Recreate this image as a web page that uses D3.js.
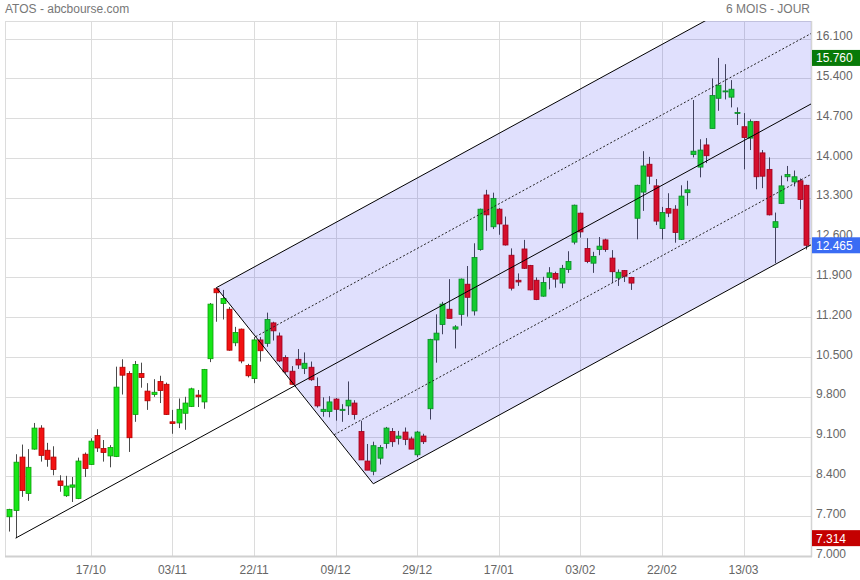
<!DOCTYPE html>
<html><head><meta charset="utf-8">
<script src="https://cdn.jsdelivr.net/npm/d3@7"></script>
<style>
body{margin:0;background:#fff;}
svg{display:block;font-family:"Liberation Sans",Arial,sans-serif;}
</style>
</head><body>
<svg id="chart" width="860" height="580"></svg>
<script>
// ---- data ----
const opens = [7.69,7.80,8.74,8.10,8.88,9.25,8.86,8.74,8.32,8.06,8.21,8.01,8.79,8.61,9.12,8.89,8.76,8.75,10.32,10.21,
9.49,10.21,9.90,9.84,10.07,10.02,9.36,9.34,9.51,9.63,9.83,9.71,10.47,11.70,11.44,11.34,10.75,10.99,10.35,10.12,
10.80,10.74,11.10,10.87,10.49,10.25,10.46,10.30,10.32,9.98,9.54,9.54,9.76,9.56,9.64,9.69,9.19,8.67,8.49,8.72,
8.98,9.19,9.07,9.18,9.06,8.78,9.11,9.59,10.80,11.07,11.34,10.99,11.25,11.78,11.31,12.39,13.35,12.79,13.10,12.82,
12.29,11.85,12.40,12.11,11.85,11.57,11.90,11.97,11.80,12.04,12.52,13.03,12.41,12.15,12.39,12.56,12.24,11.89,12.02,11.90,
12.94,13.40,13.89,13.51,12.76,13.11,13.10,12.57,13.39,14.06,13.84,14.23,14.52,15.05,15.17,15.07,14.79,14.55,14.35,14.64,
14.09,13.80,12.78,13.20,13.67,13.58,13.60,13.52];
const highs = [7.83,8.79,8.96,8.88,9.34,9.30,8.99,8.93,8.42,8.41,8.39,8.73,8.82,9.07,9.23,9.04,8.95,10.33,10.46,10.25,
10.43,10.40,10.04,10.11,10.17,10.05,9.57,9.77,9.80,9.96,9.92,10.29,11.45,11.72,11.68,11.38,11.03,11.00,10.38,10.85,
10.85,11.28,11.12,10.93,10.53,10.34,10.64,10.58,10.42,10.14,9.79,9.81,9.78,9.67,10.07,9.74,9.38,8.97,9.01,8.95,
9.27,9.25,9.20,9.26,9.10,9.20,9.15,10.82,11.25,11.47,11.87,11.06,11.88,12.10,12.50,13.11,13.44,13.39,13.12,12.97,
12.41,11.97,12.56,12.12,11.90,11.91,12.08,12.00,12.12,12.36,13.18,13.04,12.59,12.35,12.61,12.58,12.38,12.04,12.03,11.91,
13.53,14.12,14.02,13.63,13.14,13.38,13.17,13.52,13.60,15.02,14.33,14.35,15.40,15.76,15.65,15.37,14.89,14.79,14.68,14.65,
14.14,14.01,13.04,13.69,13.86,13.78,13.64,13.53];
const lows = [7.43,7.314,8.04,7.97,8.87,8.66,8.57,8.42,8.13,8.04,7.95,8.00,8.39,8.60,8.83,8.66,8.56,8.74,9.84,8.83,
9.36,9.96,9.57,9.80,9.69,9.48,9.15,9.25,9.22,9.62,9.62,9.59,10.41,11.12,11.16,10.61,10.69,10.39,10.14,10.04,
10.42,10.68,10.79,10.41,10.21,10.01,10.29,10.20,10.08,9.61,9.45,9.44,9.38,9.36,9.48,9.40,8.69,8.51,8.42,8.61,
8.89,8.92,8.96,8.95,8.88,8.74,8.97,9.40,10.40,10.90,11.18,10.65,11.05,11.21,11.23,12.37,12.72,12.75,12.65,12.46,
11.67,11.75,12.05,11.67,11.50,11.56,11.69,11.72,11.71,11.98,12.48,12.60,12.15,11.98,12.29,12.35,11.80,11.75,11.82,11.68,
12.57,13.07,13.54,12.82,12.57,12.96,12.51,12.56,13.16,14.01,13.66,13.91,14.52,14.83,15.03,14.89,14.58,13.80,14.14,13.45,
13.47,12.99,12.15,13.19,13.59,13.50,13.10,12.39];
const closes = [7.82,8.65,8.15,8.56,9.25,8.77,8.70,8.52,8.24,8.23,8.25,8.67,8.54,9.02,8.90,8.82,8.91,9.97,10.18,9.08,
10.37,10.14,9.73,9.88,9.91,9.49,9.33,9.58,9.69,9.94,9.80,10.28,11.43,11.63,11.53,10.62,10.93,10.43,10.17,10.80,
10.61,11.16,10.96,10.43,10.24,10.02,10.36,10.39,10.10,9.64,9.58,9.71,9.58,9.58,9.74,9.49,8.69,8.51,8.94,8.91,
9.25,9.01,9.11,9.05,8.88,9.18,9.01,10.81,10.92,11.43,11.18,11.03,11.87,11.55,12.25,13.10,13.00,13.29,12.84,12.47,
11.71,11.82,12.06,11.68,11.51,11.81,11.98,11.87,12.06,12.18,13.17,12.70,12.18,12.27,12.45,12.39,12.00,11.99,11.92,11.80,
13.52,13.86,13.68,12.89,13.04,13.03,12.69,13.33,13.44,14.12,14.14,14.04,15.10,15.28,15.18,15.21,14.80,14.36,14.64,13.67,
13.68,13.00,12.88,13.51,13.71,13.67,13.27,12.465];

const xTickIndex  = [13, 26, 39, 52, 65, 78, 91, 104, 117];
const xTickLabels = ["17/10","03/11","22/11","09/12","29/12","17/01","03/02","22/02","13/03"];
const yTicks = [7.0,7.7,8.4,9.1,9.8,10.5,11.2,11.9,12.6,13.3,14.0,14.7,15.4,16.1];

// Andrews pitchfork pivots (candle index, price)
const pivotIndex = [1, 33, 58];
const pivotPrice = [7.314, 11.72, 8.27];

const titleLeft = "ATOS - abcbourse.com";
const titleRight = "6 MOIS - JOUR";

// ---- drawing ----
const svg = d3.select("#chart");
const L = 5, R = 811, T = 21, B = 556;
const N = closes.length;
const x = d3.scaleLinear().domain([0, N - 1]).range([9.3, 806.3]);
const y = d3.scaleLinear().domain([7, 16.1]).range([556, 38.6]);

const gridCol = "#dcdcdc";
const textCol = "#666";

svg.append("defs").append("clipPath").attr("id","plotclip")
  .append("rect").attr("x",L).attr("y",T).attr("width",R-L).attr("height",B-T);

// grid
const grid = svg.append("g");
grid.selectAll("line.h").data(yTicks).join("line")
  .attr("x1",L).attr("x2",R).attr("y1",d=>Math.round(y(d))+0.5).attr("y2",d=>Math.round(y(d))+0.5)
  .attr("stroke",gridCol).attr("stroke-width",1);
grid.selectAll("line.v").data(xTickIndex).join("line")
  .attr("x1",d=>Math.round(x(d))+0.5).attr("x2",d=>Math.round(x(d))+0.5).attr("y1",T).attr("y2",B)
  .attr("stroke",gridCol).attr("stroke-width",1);
// frame
grid.append("line").attr("x1",L+0.5).attr("x2",L+0.5).attr("y1",T).attr("y2",B).attr("stroke",gridCol);
grid.append("line").attr("x1",R+0.5).attr("x2",R+0.5).attr("y1",T).attr("y2",B+1).attr("stroke","#d4d4d4").attr("stroke-width",1.5);
grid.append("line").attr("x1",L).attr("x2",R).attr("y1",T+0.5).attr("y2",T+0.5).attr("stroke",gridCol);
grid.append("line").attr("x1",L).attr("x2",R+1).attr("y1",B+0.5).attr("y2",B+0.5).attr("stroke","#d0d0d0").attr("stroke-width",2);

// candles
const data = d3.range(N).map(i => ({i, o:opens[i], h:highs[i], l:lows[i], c:closes[i]}));
const plot = svg.append("g").attr("clip-path","url(#plotclip)");
const cg = plot.append("g");
cg.selectAll("line.wick").data(data).join("line")
  .attr("x1",d=>Math.round(x(d.i))+0.5).attr("x2",d=>Math.round(x(d.i))+0.5)
  .attr("y1",d=>y(d.h)).attr("y2",d=>y(d.l))
  .attr("stroke","#4a4a4a").attr("stroke-width",1);
const bw = 5;
cg.selectAll("rect.body").data(data).join("rect")
  .attr("x",d=>Math.round(x(d.i))+0.5-bw/2)
  .attr("y",d=>y(Math.max(d.o,d.c)))
  .attr("width",bw)
  .attr("height",d=>Math.max(1, Math.abs(y(d.o)-y(d.c))))
  .attr("fill",d=>d.c>=d.o ? "#17e617" : "#f21212")
  .attr("stroke",d=>d.c>=d.o ? "#0b9e0b" : "#b50000")
  .attr("stroke-width",0.8);

// pitchfork
const [iA,iB,iC] = pivotIndex, [pA,pB,pC] = pivotPrice;
const iM = (iB+iC)/2, pM = (pB+pC)/2;
const slope = (pM-pA)/(iM-iA);
const iEnd = x.invert(R+2);
const lineFrom = (i0,p0) => [[x(i0),y(p0)],[x(iEnd),y(p0+slope*(iEnd-i0))]];
const frac = f => [iB+(iC-iB)*f, pB+(pC-pB)*f];
const upper = lineFrom(iB,pB), lower = lineFrom(iC,pC);
const pg = plot.append("g");
pg.append("path")
  .attr("d", d3.line()([upper[0],upper[1],lower[1],lower[0]]) + "Z")
  .attr("fill","rgb(0,0,235)").attr("fill-opacity",0.12);
const solid = [lineFrom(iA,pA), upper, lower, [[x(iB),y(pB)],[x(iC),y(pC)]]];
pg.selectAll("path.solid").data(solid).join("path")
  .attr("d",d=>d3.line()(d)).attr("fill","none").attr("stroke","#000").attr("stroke-width",1);
const dashed = [lineFrom(...frac(0.25)), lineFrom(...frac(0.75))];
pg.selectAll("path.dash").data(dashed).join("path")
  .attr("d",d=>d3.line()(d)).attr("fill","none").attr("stroke","#222").attr("stroke-width",1)
  .attr("stroke-dasharray","2,2");

// y labels
svg.append("g").selectAll("text").data(yTicks).join("text")
  .attr("x",816).attr("y",d=>y(d)+1.5)
  .attr("font-size",12).attr("fill",textCol)
  .text(d=>d3.format(".3f")(d));

// x labels
svg.append("g").selectAll("text").data(xTickIndex).join("text")
  .attr("x",d=>x(d)).attr("y",574).attr("text-anchor","middle")
  .attr("font-size",12).attr("fill",textCol)
  .text((d,k)=>xTickLabels[k]);

// titles
svg.append("text").attr("x",5).attr("y",13).attr("font-size",12).attr("fill","#777").text(titleLeft);
svg.append("text").attr("x",810).attr("y",13).attr("text-anchor","end").attr("font-size",12).attr("fill","#777").text(titleRight);

// value badges: max high, last close, min low
const badges = [
  {v:d3.max(highs), col:"#087a08"},
  {v:closes[N-1], col:"#3a6cf4"},
  {v:d3.min(lows), col:"#c40000"}
];
const bg = svg.append("g");
bg.selectAll("rect").data(badges).join("rect")
  .attr("x",812).attr("y",d=>y(d.v)-8).attr("width",48).attr("height",16).attr("fill",d=>d.col);
bg.selectAll("text").data(badges).join("text")
  .attr("x",816).attr("y",d=>y(d.v)+4.5).attr("font-size",12).attr("fill","#fff")
  .text(d=>d3.format(".3f")(d.v));
</script>
</body></html>
